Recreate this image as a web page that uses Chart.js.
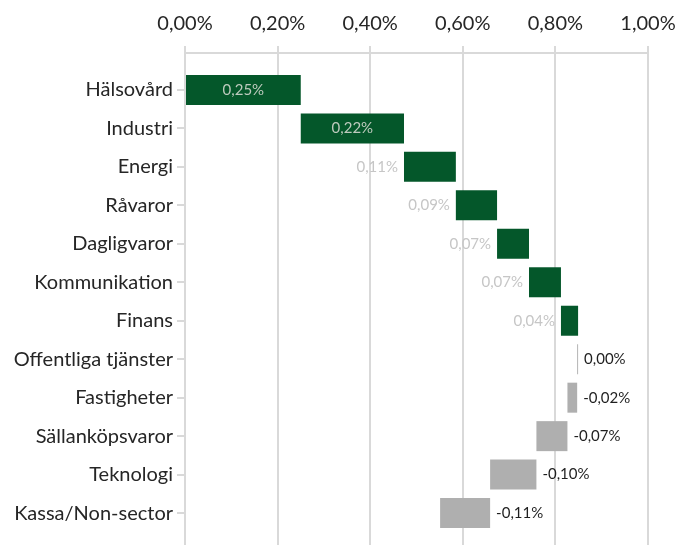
<!DOCTYPE html>
<html>
<head>
<meta charset="utf-8">
<script src="https://cdn.jsdelivr.net/npm/chart.js@4"></script>
<style>
  html, body { margin: 0; padding: 0; background: #fff; }
  #wrap { width: 679px; height: 545px; }
</style>
</head>
<body>
<div id="wrap"><canvas id="chart"></canvas></div>
<script>
// sector contributions (percentage points)
const categories = ['Hälsovård', 'Industri', 'Energi', 'Råvaror', 'Dagligvaror', 'Kommunikation',
  'Finans', 'Offentliga tjänster', 'Fastigheter', 'Sällanköpsvaror', 'Teknologi', 'Kassa/Non-sector'];
const contributions = [0.25, 0.223, 0.112, 0.089, 0.069, 0.069, 0.037, -0.002, -0.021, -0.067, -0.100, -0.108];
const xTicks = [0, 0.2, 0.4, 0.6, 0.8, 1.0];

const GREEN = '#04572a';
const GREY = '#afafaf';
const GRID = '#d9d9d9';
const FONT = 'Lato, "Source Sans Pro", "Open Sans", sans-serif';

const fmt = v => {
  const r = Math.round(v * 100) / 100;
  return (r === 0 ? 0 : r).toFixed(2).replace('.', ',') + '%';
};

// running total -> floating bars
let running = 0;
const floating = contributions.map((v, i) => {
  const start = running;
  running += v;
  return { x: [start, running], y: i };
});

const barLabels = {
  id: 'barLabels',
  afterDatasetsDraw(chart) {
    const ctx = chart.ctx;
    const meta = chart.getDatasetMeta(0);
    ctx.save();
    ctx.font = '15px ' + FONT;
    ctx.textBaseline = 'middle';
    meta.data.forEach((bar, i) => {
      const v = contributions[i];
      const text = fmt(v);
      const w = ctx.measureText(text).width;
      const left = Math.min(bar.x, bar.base);
      const right = Math.max(bar.x, bar.base);
      if (v > 0 && right - left > 2 * w) {
        ctx.fillStyle = '#bdcabd';
        ctx.textAlign = 'center';
        ctx.fillText(text, (left + right) / 2, bar.y);
      } else if (v > 0) {
        ctx.fillStyle = '#c6c6c6';
        ctx.textAlign = 'right';
        ctx.fillText(text, left - 6, bar.y);
      } else {
        ctx.fillStyle = '#1f1f1f';
        ctx.textAlign = 'left';
        ctx.fillText(text, right + 6, bar.y);
      }
    });
    ctx.restore();
  }
};

new Chart(document.getElementById('chart'), {
  type: 'bar',
  data: {
    datasets: [{
      data: floating,
      backgroundColor: contributions.map(v => v > 0 ? GREEN : GREY),
      borderWidth: 0,
      categoryPercentage: 0.78,
      barPercentage: 1
    }]
  },
  options: {
    indexAxis: 'y',
    responsive: true,
    maintainAspectRatio: false,
    animation: false,
    layout: { padding: { top: 0, right: 31, bottom: 0, left: 0 } },
    plugins: {
      legend: { display: false },
      tooltip: { enabled: false }
    },
    scales: {
      x: {
        type: 'linear',
        position: 'top',
        min: 0,
        max: 1,
        afterBuildTicks: s => { s.ticks = xTicks.map(value => ({ value })); },
        afterFit: s => { s.height = 53; s.paddingLeft = 0; s.paddingRight = 0; },
        ticks: {
          padding: 10,
          color: '#262626',
          font: { family: FONT, size: 20 },
          callback: v => fmt(v)
        },
        grid: { color: GRID, lineWidth: 2, tickLength: 7 },
        border: { color: GRID, width: 2 }
      },
      y: {
        type: 'linear',
        reverse: true,
        offset: false,
        min: -0.96,
        max: 11.83,
        afterBuildTicks: s => {
          s.ticks = categories.map((c, i) => ({ value: i }));
        },
        afterFit: s => { s.width = 185; s.paddingTop = 0; s.paddingBottom = 0; },
        ticks: {
          padding: 4,
          color: '#262626',
          font: { family: FONT, size: 20 },
          callback: v => categories[v]
        },
        grid: { offset: false, color: GRID, lineWidth: 2, tickLength: 8, drawOnChartArea: false },
        border: { display: false }
      }
    }
  },
  plugins: [barLabels]
});
</script>
</body>
</html>
